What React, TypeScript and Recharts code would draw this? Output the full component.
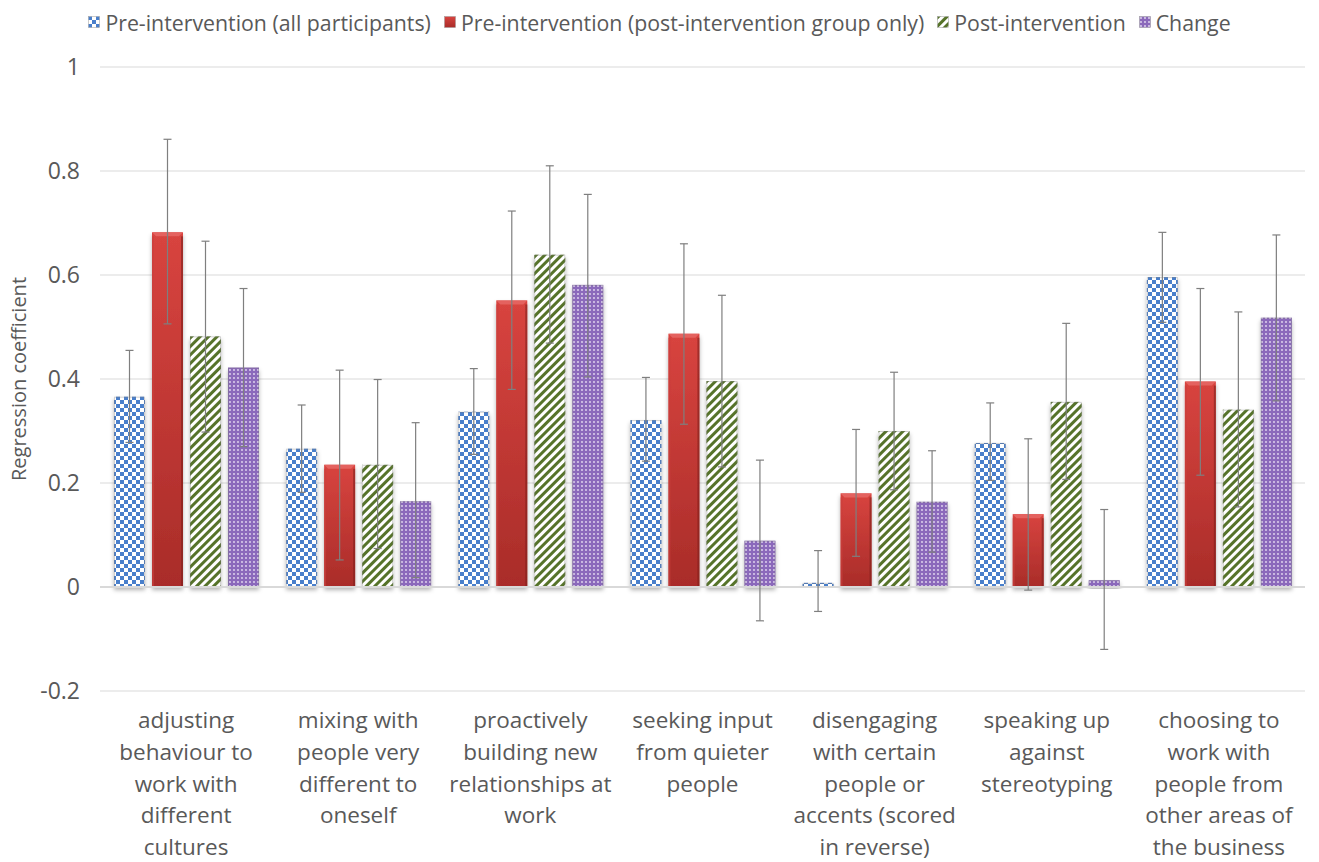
import React from 'react';
import {
  BarChart,
  Bar,
  XAxis,
  YAxis,
  CartesianGrid,
  ErrorBar,
  ReferenceLine,
  Legend,
} from 'recharts';

// Behaviour items (wrapped onto several lines under each group)
const categoryLines: string[][] = [
  ['adjusting', 'behaviour to', 'work with', 'different', 'cultures'],
  ['mixing with', 'people very', 'different to', 'oneself'],
  ['proactively', 'building new', 'relationships at', 'work'],
  ['seeking input', 'from quieter', 'people'],
  ['disengaging', 'with certain', 'people or', 'accents (scored', 'in reverse)'],
  ['speaking up', 'against', 'stereotyping'],
  ['choosing to', 'work with', 'people from', 'other areas of', 'the business'],
];
const categories = categoryLines.map((l) => l.join(' '));

const seriesNames = [
  'Pre-intervention (all participants)',
  'Pre-intervention (post-intervention group only)',
  'Post-intervention',
  'Change',
];

// Regression coefficients
const preAll = [0.366, 0.266, 0.337, 0.321, 0.008, 0.277, 0.596];
const prePostGroup = [0.682, 0.235, 0.551, 0.487, 0.18, 0.14, 0.395];
const post = [0.482, 0.235, 0.639, 0.396, 0.3, 0.356, 0.341];
const change = [0.422, 0.165, 0.581, 0.089, 0.164, 0.013, 0.518];

// Confidence intervals [lower, upper]
const preAllCI = [
  [0.278, 0.455], [0.182, 0.35], [0.255, 0.42], [0.242, 0.403],
  [-0.047, 0.07], [0.205, 0.354], [0.509, 0.682],
];
const prePostGroupCI = [
  [0.506, 0.861], [0.052, 0.417], [0.38, 0.723], [0.313, 0.66],
  [0.059, 0.303], [-0.006, 0.285], [0.215, 0.574],
];
const postCI = [
  [0.298, 0.665], [0.074, 0.399], [0.469, 0.81], [0.231, 0.561],
  [0.187, 0.413], [0.207, 0.507], [0.154, 0.529],
];
const changeCI = [
  [0.27, 0.574], [0.018, 0.316], [0.404, 0.755], [-0.065, 0.244],
  [0.067, 0.262], [-0.12, 0.149], [0.358, 0.677],
];

const yTicks = [-0.2, 0, 0.2, 0.4, 0.6, 0.8, 1];

const toErr = (v: number, ci: number[]) => [v - ci[0], ci[1] - v];

const data = categories.map((c, i) => ({
  category: c,
  preAll: preAll[i],
  preAllErr: toErr(preAll[i], preAllCI[i]),
  prePostGroup: prePostGroup[i],
  prePostGroupErr: toErr(prePostGroup[i], prePostGroupCI[i]),
  post: post[i],
  postErr: toErr(post[i], postCI[i]),
  change: change[i],
  changeErr: toErr(change[i], changeCI[i]),
}));

const FONT = '"Open Sans", "DejaVu Sans", sans-serif';
const TEXT = '#595959';
const ERR = '#7f7f7f';

const fills = ['url(#checker)', 'url(#redGrad)', 'url(#stripes)', 'url(#dots)'];

const CategoryTick = (props: any) => {
  const { x, y, payload } = props;
  const lines = categoryLines[payload.index] || [];
  return (
    <text
      x={x}
      y={y + 37}
      textAnchor="middle"
      fill={TEXT}
      fontSize={22.5}
      fontFamily={FONT}
    >
      {lines.map((l, i) => (
        <tspan key={i} x={x} dy={i === 0 ? 0 : 31.8}>
          {l}
        </tspan>
      ))}
    </text>
  );
};

// Bar with a soft drop shadow and a bevelled top edge
const makeShape = (kind: number) => (props: any) => {
  const { x, y, width, height } = props;
  if (width == null || height == null) return null;
  const h = Math.abs(height);
  const top = height >= 0 ? y : y + height;
  const b = Math.min(4, h / 2);
  return (
    <g filter="url(#barShadow)">
      <rect x={x} y={top} width={width} height={h} fill={fills[kind]} />
      {kind === 1 ? (
        <>
          <polygon
            points={`${x},${top} ${x + width},${top} ${x + width - b},${top + b} ${x + b},${top + b}`}
            fill="#e4625e"
          />
          <rect x={x} y={top + b} width={2} height={Math.max(0, h - b)} fill="#c9403c" opacity={0.6} />
          <rect x={x + width - 2} y={top + b} width={2} height={Math.max(0, h - b)} fill="#7e1f1c" opacity={0.6} />
        </>
      ) : (
        <rect
          x={x + 0.5}
          y={top + 0.5}
          width={Math.max(0, width - 1)}
          height={Math.max(0, h - 1)}
          fill="none"
          stroke="rgba(120,120,120,0.35)"
          strokeWidth={1}
        />
      )}
    </g>
  );
};

const LegendIcon = ({ kind }: { kind: number }) => (
  <svg width={12} height={12} style={{ marginRight: 5, display: 'block' }}>
    <rect x={0.5} y={0.5} width={11} height={11} fill={fills[kind]} stroke="#9a9a9a" strokeWidth={0.5} />
  </svg>
);

const renderLegend = () => (
  <div
    style={{
      display: 'flex',
      justifyContent: 'center',
      alignItems: 'center',
      fontFamily: FONT,
      fontSize: 21.3,
      color: TEXT,
      height: 30,
    }}
  >
    {seriesNames.map((n, i) => (
      <div key={n} style={{ display: 'flex', alignItems: 'center', marginRight: i < 3 ? 13 : 0 }}>
        <LegendIcon kind={i} />
        <span>{n}</span>
      </div>
    ))}
  </div>
);

export default function App() {
  return (
    <div style={{ position: 'absolute', left: 0, top: 0, width: 1319, height: 862, background: '#fff' }}>
      <BarChart
        width={1319}
        height={862}
        data={data}
        margin={{ top: 37, right: 14, bottom: 0, left: 0 }}
        barSize={31}
        barGap={7}
      >
        <defs>
          <pattern id="checker" patternUnits="userSpaceOnUse" width={8} height={8}>
            <rect width={8} height={8} fill="#ffffff" />
            <rect x={0} y={0} width={4} height={4} fill="#4a7fcb" />
            <rect x={4} y={4} width={4} height={4} fill="#4a7fcb" />
          </pattern>
          <linearGradient id="redGrad" x1="0" y1="0" x2="0" y2="1">
            <stop offset="0%" stopColor="#d8443f" />
            <stop offset="100%" stopColor="#a92c29" />
          </linearGradient>
          <pattern
            id="stripes"
            patternUnits="userSpaceOnUse"
            width={6}
            height={6}
            patternTransform="rotate(45)"
          >
            <rect width={6} height={6} fill="#ffffff" />
            <rect x={0} y={0} width={3} height={6} fill="#56732a" />
          </pattern>
          <pattern id="dots" patternUnits="userSpaceOnUse" width={4} height={4}>
            <rect width={4} height={4} fill="#8b69bb" />
            <circle cx={2} cy={2} r={0.9} fill="#e6dcf3" />
          </pattern>
          <filter id="barShadow" x="-20%" y="-10%" width="140%" height="130%">
            <feDropShadow dx={0} dy={3} stdDeviation={2} floodColor="#000" floodOpacity={0.3} />
          </filter>
        </defs>
        <CartesianGrid vertical={false} stroke="#d9d9d9" strokeWidth={1} />
        <Legend
          verticalAlign="top"
          content={renderLegend}
          wrapperStyle={{ top: 7, left: 0, width: 1319, height: 30 }}
        />
        <XAxis
          dataKey="category"
          axisLine={false}
          tickLine={false}
          tickSize={0}
          tickMargin={0}
          height={171}
          interval={0}
          tick={<CategoryTick />}
        />
        <YAxis
          domain={[-0.2, 1]}
          ticks={yTicks}
          width={100}
          axisLine={false}
          tickLine={false}
          tickSize={0}
          tickMargin={20}
          tick={{ fill: TEXT, fontSize: 23, fontFamily: FONT }}
          label={{
            value: 'Regression coefficient',
            angle: -90,
            position: 'insideLeft',
            offset: 19,
            style: { fill: TEXT, fontSize: 20, fontFamily: FONT, textAnchor: 'middle' },
          }}
        />
        <ReferenceLine y={0} stroke="#d9d9d9" strokeWidth={2} />
        <Bar dataKey="preAll" name={seriesNames[0]} shape={makeShape(0)} isAnimationActive={false}>
          <ErrorBar dataKey="preAllErr" width={4} stroke={ERR} strokeWidth={1.2} direction="y" />
        </Bar>
        <Bar dataKey="prePostGroup" name={seriesNames[1]} shape={makeShape(1)} isAnimationActive={false}>
          <ErrorBar dataKey="prePostGroupErr" width={4} stroke={ERR} strokeWidth={1.2} direction="y" />
        </Bar>
        <Bar dataKey="post" name={seriesNames[2]} shape={makeShape(2)} isAnimationActive={false}>
          <ErrorBar dataKey="postErr" width={4} stroke={ERR} strokeWidth={1.2} direction="y" />
        </Bar>
        <Bar dataKey="change" name={seriesNames[3]} shape={makeShape(3)} isAnimationActive={false}>
          <ErrorBar dataKey="changeErr" width={4} stroke={ERR} strokeWidth={1.2} direction="y" />
        </Bar>
      </BarChart>
    </div>
  );
}
